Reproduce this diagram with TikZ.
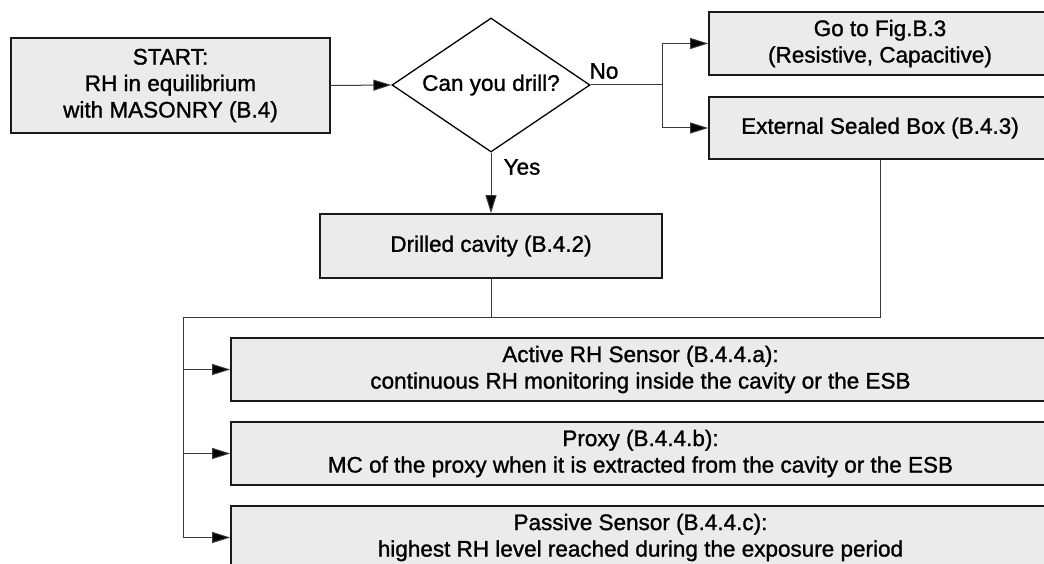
\documentclass[tikz,border=0pt]{standalone}
\usepackage{fontspec}
\setmainfont{Liberation Sans}
\newfontfamily\heavysans{Liberation Sans}[FakeBold=1.2]
\usetikzlibrary{shapes.geometric,arrows.meta}

\definecolor{boxfill}{HTML}{EBEBEB}
\definecolor{boxline}{HTML}{1A1A1A}
\definecolor{wire}{HTML}{3A3A3A}

\tikzset{
  txt/.style={font=\heavysans\fontsize{22.5}{26.5}\selectfont, align=center},
  procbox/.style={txt, draw=boxline, line width=1.6pt, fill=boxfill,
                  inner sep=0pt, anchor=center},
  decision/.style={txt, draw=black, line width=1.3pt, fill=white, diamond,
                   aspect=1.48, inner sep=0pt,
                   minimum width=198pt, minimum height=134pt},
  conn/.style={draw=wire, line width=1pt},
  arr/.style={conn, -{Triangle[length=18pt,width=11pt,fill=black]}},
  lbl/.style={txt, inner sep=0pt}
}

\begin{document}
\begin{tikzpicture}[x=1pt,y=-1pt]
  \useasboundingbox (0,0) rectangle (1044,564);
  \clip (0,0) rectangle (1044,564);

  % start and decision
  \node[procbox, minimum width=319pt, minimum height=95pt] (start) at (170.5,85.5)
    {START:\\RH in equilibrium\\with MASONRY (B.4)};
  \node[decision] (dec) at (491,85) {Can you drill?};

  % "No" branch targets
  \node[procbox, minimum width=342pt, minimum height=63pt] (fig) at (880,43.5)
    {Go to Fig.B.3\\(Resistive, Capacitive)};
  \node[procbox, minimum width=342pt, minimum height=62pt] (esb) at (880,128)
    {External Sealed Box (B.4.3)};

  % "Yes" branch target
  \node[procbox, minimum width=342pt, minimum height=64pt] (drill) at (491,246)
    {Drilled cavity (B.4.2)};

  % measurement methods
  \node[procbox, minimum width=819pt, minimum height=63pt] (active) at (640.5,369.5)
    {Active RH Sensor (B.4.4.a):\\continuous RH monitoring inside the cavity or the ESB};
  \node[procbox, minimum width=819pt, minimum height=63pt] (proxy) at (640.5,453.5)
    {Proxy (B.4.4.b):\\MC of the proxy when it is extracted from the cavity or the ESB};
  \node[procbox, minimum width=819pt, minimum height=63pt] (passive) at (640.5,537.5)
    {Passive Sensor (B.4.4.c):\\highest RH level reached during the exposure period};

  % branch labels
  \node[lbl] (no) at (604,71) {No};
  \node[lbl] (yes) at (522,167) {Yes};

  % connectors
  \coordinate (split) at (662,85);
  \coordinate (bus) at (183,317);

  \draw[arr] (start.east) -- (dec.west);
  \draw[conn] (dec.east) -- (split);
  \draw[arr] (split) |- (fig.west);
  \draw[arr] (split) |- (esb.west);
  \draw[arr] (dec.south) -- (drill.north);

  \draw[conn] (esb.south) |- (bus) -- (bus |- passive.west);
  \draw[conn] (drill.south) -- (drill.south |- bus);
  \draw[arr] (bus |- active.west) -- (active.west);
  \draw[arr] (bus |- proxy.west) -- (proxy.west);
  \draw[arr] (bus |- passive.west) -- (passive.west);
\end{tikzpicture}
\end{document}
